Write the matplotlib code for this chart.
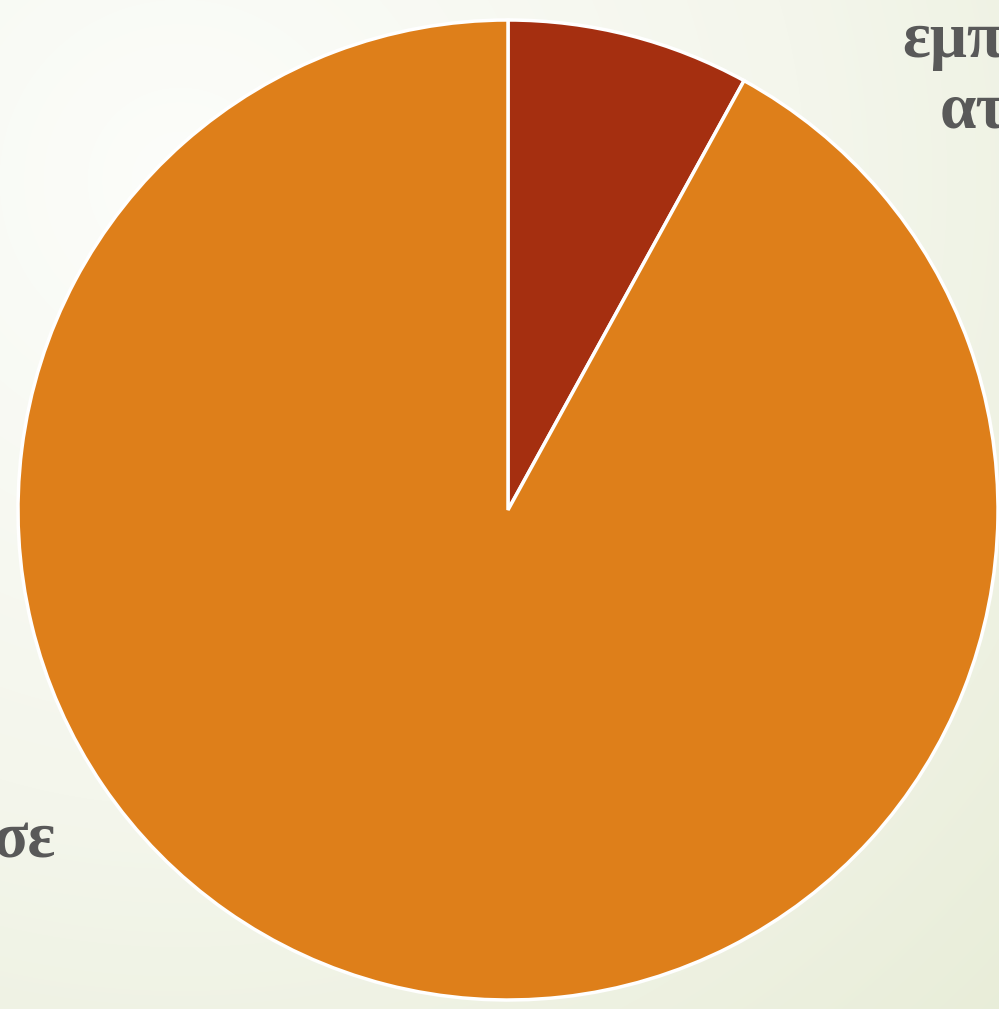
import numpy as np
import matplotlib
matplotlib.use("Agg")
import matplotlib.pyplot as plt
from matplotlib.colors import LinearSegmentedColormap

# slice values (percent)
values = [8, 92]
colors = ["#A52F10", "#DE7F1A"]
labels_right = ["εμπ", "ατ"]
label_left = "σε"

W, H = 999, 1009
fig = plt.figure(figsize=(W / 100, H / 100), dpi=100)

# soft background: near white top-left fading to pale green bottom-right
bg = fig.add_axes([0, 0, 1, 1])
yy, xx = np.mgrid[0:H, 0:W]
r = np.hypot(xx - 180, yy - 180) / 1250.0
cmap = LinearSegmentedColormap.from_list("bg", ["#FCFDFA", "#F4F6EC", "#E7ECD6"])
bg.imshow(np.clip(r, 0, 1), cmap=cmap, vmin=0, vmax=1, aspect="auto",
          extent=[0, 1, 0, 1], origin="upper")
bg.set_axis_off()

# pie centred at (508, 510) px, radius 490 px
rad = 490
ax = fig.add_axes([(508 - rad) / W, (H - 510 - rad) / H, 2 * rad / W, 2 * rad / H])
ax.pie(values, colors=colors, startangle=90, counterclock=False, radius=1,
       wedgeprops=dict(edgecolor="white", linewidth=2.5))
ax.set_xlim(-1, 1); ax.set_ylim(-1, 1)
ax.set_aspect("auto")
ax.set_axis_off()

font = dict(family="Liberation Serif", fontweight="bold", color="#595959", fontsize=47)
fig.text(902 / W, 1 - 57 / H, labels_right[0], ha="left", va="baseline", **font)
fig.text(940 / W, 1 - 127 / H, labels_right[1], ha="left", va="baseline", **font)
fig.text(56 / W, 1 - 858 / H, label_left, ha="right", va="baseline", **font)

fig.savefig("out.png", dpi=100)
